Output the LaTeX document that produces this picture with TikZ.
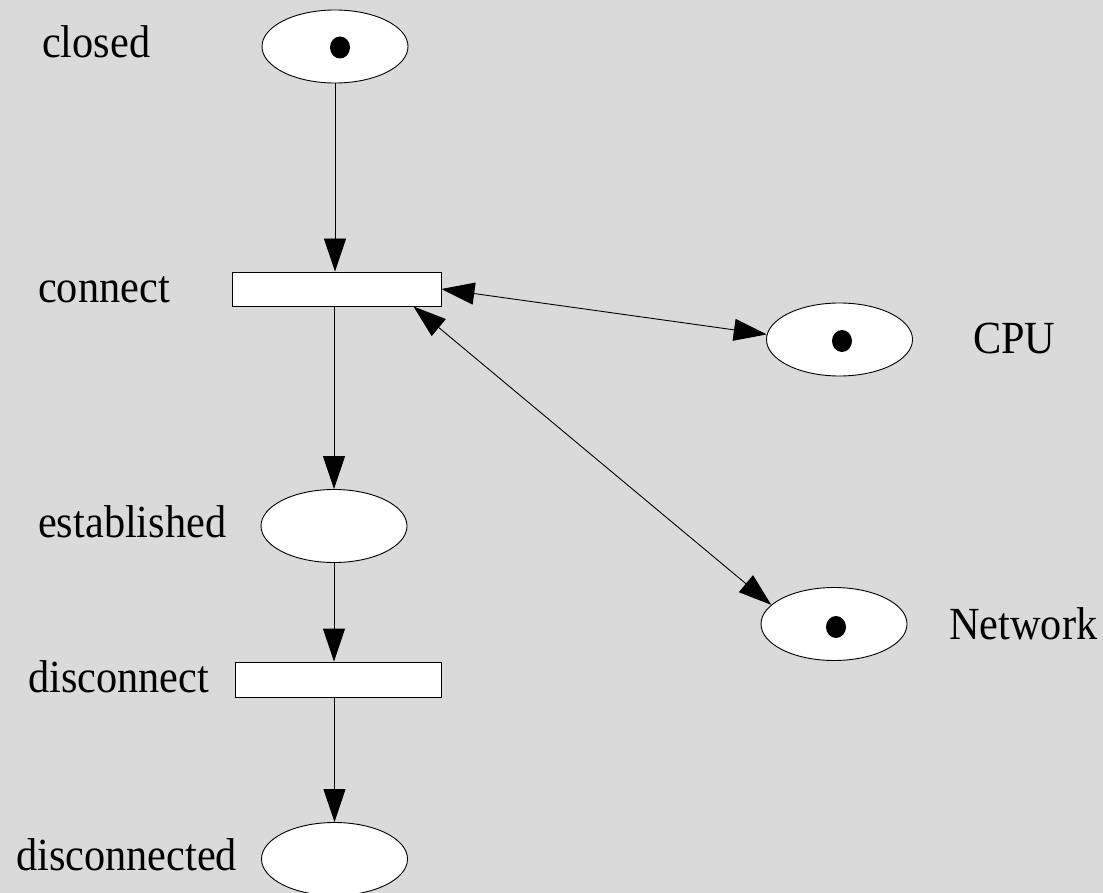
\documentclass[tikz,border=0pt]{standalone}
\usepackage{fontspec}
\setmainfont[FakeStretch=0.92]{Liberation Serif}
\usetikzlibrary{arrows.meta,shapes.geometric}
\definecolor{marble}{RGB}{218,218,218}
\tikzset{
  place/.style={ellipse, draw=black, line width=0.9pt, fill=white,
    minimum width=146pt, minimum height=73pt, inner sep=0pt},
  token/.style={ellipse, fill=black, minimum width=20pt, minimum height=22pt, inner sep=0pt},
  transition/.style={rectangle, draw=black, line width=0.9pt, fill=white, inner sep=0pt},
  lbl/.style={anchor=base west, inner sep=0pt, font=\fontsize{46}{52}\selectfont},
  tip/.tip={Triangle[length=33pt,width=22pt]},
  flow/.style={line width=0.9pt, -tip},
  flowboth/.style={line width=0.9pt, tip-tip},
}
\begin{document}
\begin{tikzpicture}[x=1pt,y=-1pt]
  % canvas
  \fill[marble] (0,0) rectangle (1103,893);
  \useasboundingbox (0,0) rectangle (1103,893);

  % places and transitions
  \node[place] (closed) at (335,46.5) {};
  \node[transition, minimum width=209pt, minimum height=34pt] (connect) at (336.5,289) {};
  \node[place] (established) at (334,526) {};
  \node[transition, minimum width=206pt, minimum height=35pt] (disconnect) at (338,679.5) {};
  \node[place] (disconnected) at (334.5,859) {};
  \node[place] (cpu) at (839.5,339.5) {};
  \node[place] (network) at (834,624) {};

  % tokens
  \node[token] (closedtok) at (340,47.5) {};
  \node[token] (cputok) at (842,341) {};
  \node[token] (nettok) at (836,627) {};

  % labels
  \node[lbl] (closedlbl) at (42,58) {closed};
  \node[lbl] (connectlbl) at (38,302) {connect};
  \node[lbl] (establishedlbl) at (38,537) {established};
  \node[lbl] (disconnectlbl) at (28,692) {disconnect};
  \node[lbl] (disconnectedlbl) at (16,870) {disconnected};
  \node[lbl] (cpulbl) at (973,353) {CPU};
  \node[lbl] (networklbl) at (949,639) {Network};

  % arcs
  \draw[flow] (closed.south) -- (closed.south |- connect.north);
  \draw[flow] (established.north |- connect.south) -- (established.north);
  \draw[flow] (established.south) -- (established.south |- disconnect.north);
  \draw[flow] (disconnected.north |- disconnect.south) -- (disconnected.north);
  \draw[flowboth] (connect.east) -- (cpu.176);
  \draw[flowboth] ([xshift=-28pt]connect.south east) -- (network.163);
\end{tikzpicture}
\end{document}
